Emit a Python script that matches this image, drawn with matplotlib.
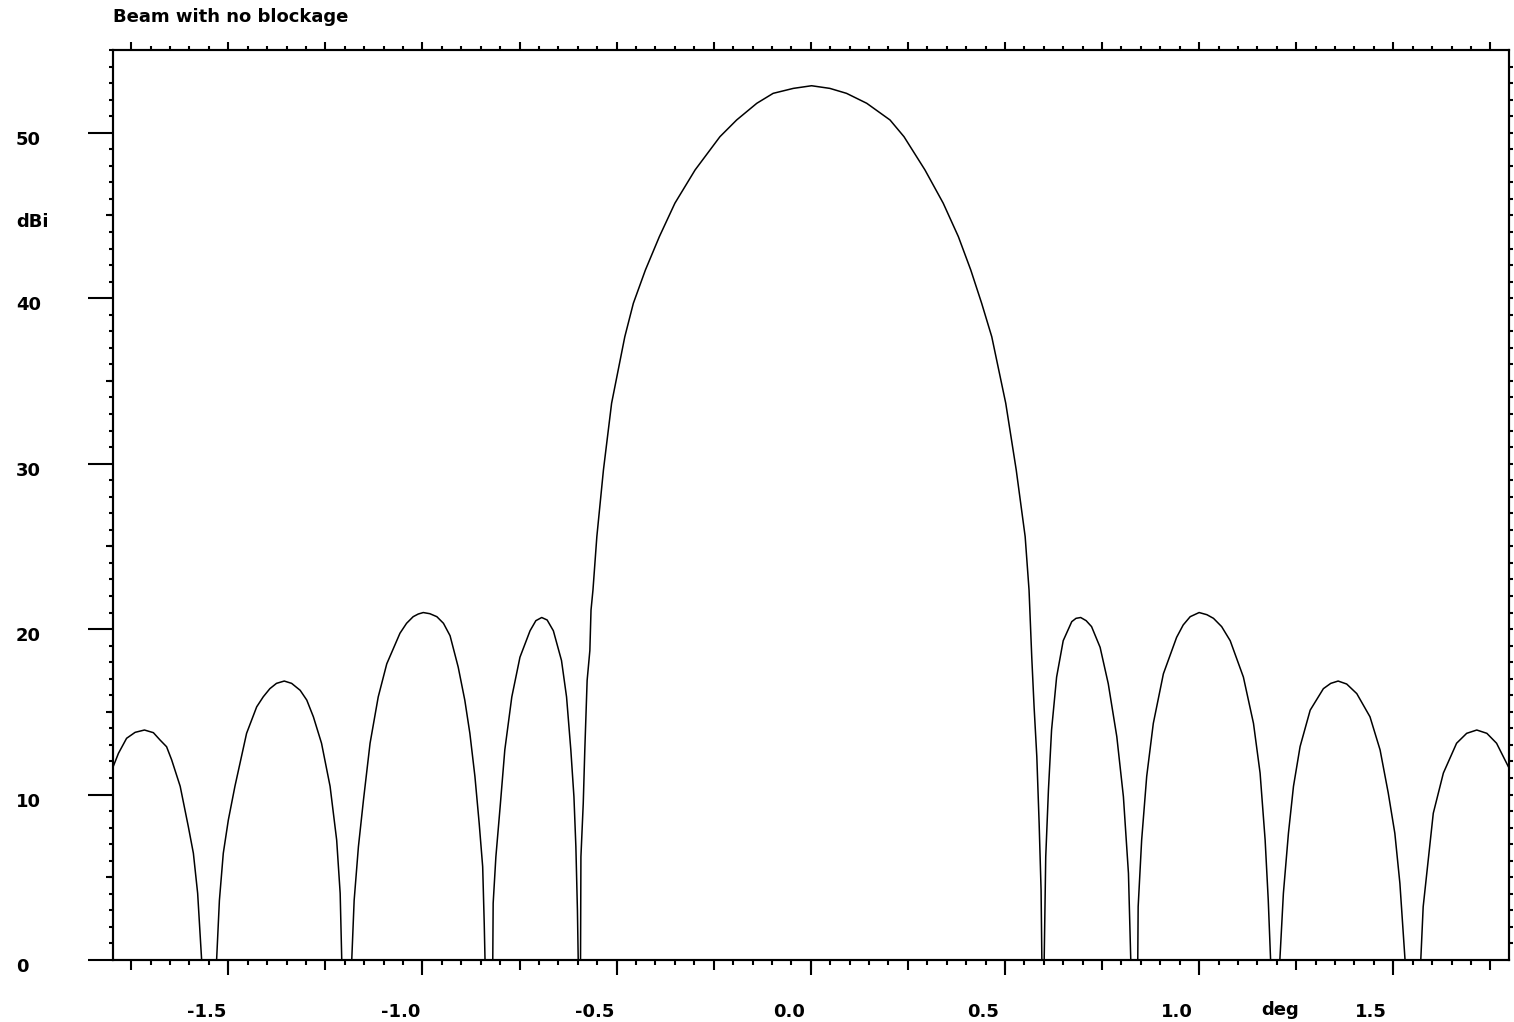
import matplotlib
matplotlib.use("Agg")
import matplotlib.pyplot as plt
from matplotlib.ticker import MultipleLocator
from matplotlib.transforms import ScaledTranslation

# gain pattern (deg, dBi); values below 0 are the clipped nulls
angle = [-1.798, -1.783, -1.762, -1.740, -1.716, -1.693, -1.676, -1.659, -1.646, -1.624,
         -1.603, -1.590, -1.579, -1.569, -1.550, -1.530, -1.523, -1.513, -1.500, -1.483,
         -1.453, -1.427, -1.410, -1.393, -1.376, -1.356, -1.337, -1.315, -1.298, -1.281,
         -1.260, -1.238, -1.221, -1.212, -1.208, -1.195, -1.182, -1.176, -1.165, -1.152,
         -1.135, -1.114, -1.092, -1.058, -1.041, -1.024, -1.011, -0.998, -0.981, -0.963,
         -0.946, -0.929, -0.908, -0.891, -0.878, -0.865, -0.854, -0.845, -0.841, -0.839,
         -0.829, -0.819, -0.818, -0.811, -0.800, -0.788, -0.770, -0.749, -0.723, -0.708,
         -0.693, -0.679, -0.663, -0.642, -0.629, -0.618, -0.610, -0.605, -0.601, -0.599,
         -0.596, -0.593, -0.592, -0.586, -0.582, -0.576, -0.569, -0.566, -0.561, -0.551,
         -0.534, -0.513, -0.479, -0.457, -0.426, -0.390, -0.350, -0.298, -0.234, -0.191,
         -0.139, -0.097, -0.045, 0.002, 0.049, 0.092, 0.144, 0.204, 0.240, 0.294,
         0.341, 0.380, 0.412, 0.440, 0.466, 0.502, 0.529, 0.552, 0.562, 0.569,
         0.575, 0.582, 0.588, 0.593, 0.595, 0.598, 0.601, 0.605, 0.612, 0.620,
         0.633, 0.650, 0.672, 0.683, 0.695, 0.709, 0.723, 0.745, 0.766, 0.788,
         0.805, 0.818, 0.824, 0.833, 0.842, 0.843, 0.852, 0.865, 0.882, 0.908,
         0.942, 0.959, 0.977, 1.000, 1.020, 1.037, 1.058, 1.080, 1.114, 1.140,
         1.157, 1.170, 1.178, 1.184, 1.196, 1.208, 1.217, 1.230, 1.243, 1.260,
         1.286, 1.320, 1.339, 1.358, 1.380, 1.406, 1.440, 1.466, 1.487, 1.504,
         1.517, 1.530, 1.550, 1.571, 1.577, 1.590, 1.603, 1.629, 1.663, 1.689,
         1.715, 1.741, 1.766, 1.796]
gain = [11.6, 12.49, 13.4, 13.76, 13.9, 13.74, 13.3, 12.89, 12.1, 10.5,
        8.06, 6.45, 4.03, 0.1, -8.0, 0.1, 3.6, 6.45, 8.46, 10.5,
        13.7, 15.3, 15.91, 16.4, 16.72, 16.86, 16.72, 16.3, 15.71, 14.7,
        13.1, 10.5, 7.25, 4.03, 0.1, -8.0, 0.1, 3.6, 6.85, 9.67,
        13.1, 15.9, 17.9, 19.75, 20.35, 20.75, 20.91, 21.0, 20.93, 20.75,
        20.35, 19.6, 17.7, 15.7, 13.7, 11.1, 8.26, 5.64, 2.2, 0.04,
        -8.0, 0.04, 3.43, 6.24, 9.27, 12.7, 15.9, 18.3, 19.9, 20.51,
        20.7, 20.55, 19.9, 18.1, 15.9, 12.7, 9.87, 6.85, 3.0, 0.04,
        -8.0, 0.04, 6.24, 9.47, 12.7, 16.9, 18.7, 21.15, 22.36, 25.59,
        29.62, 33.65, 37.67, 39.69, 41.70, 43.72, 45.74, 47.75, 49.76, 50.77,
        51.78, 52.38, 52.68, 52.84, 52.68, 52.38, 51.78, 50.77, 49.76, 47.75,
        45.74, 43.72, 41.70, 39.69, 37.67, 33.65, 29.62, 25.59, 22.36, 18.3,
        15.3, 12.3, 8.26, 4.23, 0.04, -8.0, 0.04, 6.24, 10.3, 13.9,
        17.1, 19.3, 20.45, 20.65, 20.7, 20.51, 20.15, 18.9, 16.7, 13.5,
        9.87, 5.24, 0.04, -8.0, 0.04, 3.22, 7.25, 11.1, 14.3, 17.3,
        19.5, 20.25, 20.75, 21.0, 20.87, 20.65, 20.15, 19.3, 17.1, 14.3,
        11.3, 7.25, 3.63, 0.04, -8.0, 0.04, 4.03, 7.66, 10.5, 12.9,
        15.1, 16.4, 16.72, 16.86, 16.68, 16.1, 14.7, 12.7, 10.1, 7.66,
        4.64, 0.1, -8.0, 0.1, 3.22, 6.04, 8.87, 11.3, 13.1, 13.70,
        13.9, 13.70, 13.1, 11.7]

xtick_pos = [-1.5, -1.0, -0.5, 0.0, 0.5, 1.0, 1.5]
xtick_labels = ["-1.5", "-1.0", "-0.5", "0.0", "0.5", "1.0", "1.5"]
ytick_pos = [0, 10, 20, 30, 40, 50]
ytick_labels = ["0", "10", "20", "30", "40", "50"]

plt.rcParams['font.family'] = ['DejaVu Sans']
plt.rcParams['font.weight'] = 'bold'
plt.rcParams['font.size'] = 13

W, H = 1514, 1022
PX = 72 / 100  # points per pixel

fig = plt.figure(figsize=(W / 100, H / 100), dpi=100)
ax = fig.add_axes([113 / W, 62 / H, 1396 / W, 910 / H])
ax.plot(angle, gain, color='black', lw=1.1)
ax.set_xlim(-1.797, 1.798)
ax.set_ylim(0, 55)
for s in ax.spines.values():
    s.set_linewidth(1.5)

# x ticks: 0.25 medium, 0.05 small on main axis
ax.xaxis.set_major_locator(MultipleLocator(0.25))
ax.xaxis.set_minor_locator(MultipleLocator(0.05))
ax.tick_params(axis='x', which='major', direction='out', length=10 * PX, width=1.5,
               labelbottom=False, top=False)
ax.tick_params(axis='x', which='minor', direction='out', length=5 * PX, width=1.5, top=False)

# long 0.5 ticks carrying the labels
bot = ax.secondary_xaxis('bottom')
bot.set_xticks(xtick_pos, labels=xtick_labels)
bot.tick_params(length=15 * PX, width=1.5, pad=20)
bot.spines['bottom'].set_linewidth(1.5)
shift_x = ScaledTranslation(-22 / 100, 0, fig.dpi_scale_trans)
for lbl in bot.get_xticklabels():
    lbl.set_transform(lbl.get_transform() + shift_x)

top = ax.secondary_xaxis('top')
top.xaxis.set_major_locator(MultipleLocator(0.25))
top.xaxis.set_minor_locator(MultipleLocator(0.05))
top.tick_params(which='major', length=8 * PX, width=1.5, labeltop=False)
top.tick_params(which='minor', length=4 * PX, width=1.5)
top.spines['top'].set_linewidth(1.5)

# y ticks
ax.set_yticks(ytick_pos, labels=ytick_labels)
ax.yaxis.set_minor_locator(MultipleLocator(1))
ax.tick_params(axis='y', which='major', direction='out', length=25 * PX, width=1.5,
               pad=72 * PX, right=False)
ax.tick_params(axis='y', which='minor', direction='out', length=4 * PX, width=1.5, right=False)
shift_y = ScaledTranslation(0, -5 / 100, fig.dpi_scale_trans)
for lbl in ax.get_yticklabels():
    lbl.set_horizontalalignment('left')
    lbl.set_transform(lbl.get_transform() + shift_y)

mid = ax.secondary_yaxis('left')
mid.set_yticks([5, 15, 25, 35, 45], labels=[])
mid.tick_params(length=7 * PX, width=1.5)
mid.spines['left'].set_linewidth(1.5)

right = ax.secondary_yaxis('right')
right.set_yticks(list(range(1, 55)), labels=[])
right.tick_params(length=4 * PX, width=1.5)
right.spines['right'].set_linewidth(1.5)

fig.text(113 / W, 1 - 17 / H, "Beam with no blockage", ha='left', va='center')
fig.text(16 / W, 1 - 222 / H, "dBi", ha='left', va='center')
fig.text(1280 / W, 1 - 1010 / H, "deg", ha='center', va='center')

fig.savefig("out.png", dpi=100)
